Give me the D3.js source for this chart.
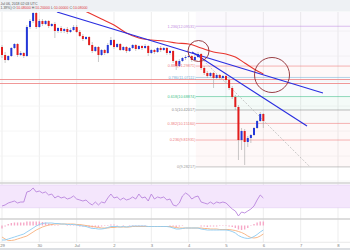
<!DOCTYPE html>
<html>
<head>
<meta charset="utf-8">
<script src="https://cdn.jsdelivr.net/npm/d3@7"></script>
<style>
html, body { margin: 0; padding: 0; background: #fff; overflow: hidden; }
svg { display: block; font-family: "Liberation Sans", Arial, sans-serif; }
</style>
</head>
<body>
<div id="chart"></div>
<script>
const W = 350, H = 250;

// 2h candles starting Jun 29 00:00 UTC
const candleStart = Date.UTC(2018, 5, 29);
const candleStepMs = 2 * 3600 * 1000;

const opens = [11.68,11.52,11.42,11.50,11.66,11.74,11.52,11.56,11.50,12.08,
    12.20,12.36,12.08,12.20,12.14,12.20,12.10,12.14,12.00,12.06,
    12.00,12.04,11.98,12.02,12.08,11.98,11.90,11.84,11.88,11.72,
    11.60,11.68,11.52,11.62,11.56,11.72,11.82,11.68,11.74,11.62,
    11.68,11.60,11.66,11.72,11.64,11.70,11.66,11.70,11.56,11.62,
    11.58,11.66,11.62,11.66,11.56,11.60,11.40,11.30,11.40,11.46,
    11.48,11.50,11.42,11.48,11.54,11.26,11.16,11.10,11.16,11.06,
    11.12,11.06,11.10,11.02,10.86,10.68,10.48,9.82,10.00,9.78,
    9.86,9.92,10.06,10.20,10.34];
const highs = [11.72,11.58,11.52,11.68,11.76,11.76,11.60,11.58,12.12,12.24,
    12.40,12.38,12.24,12.24,12.22,12.22,12.16,12.18,12.08,12.10,
    12.06,12.08,12.06,12.12,12.12,12.02,11.94,11.90,11.90,11.78,
    11.70,11.70,11.64,11.64,11.76,11.88,11.84,11.76,11.76,11.70,
    11.70,11.68,11.74,11.74,11.72,11.72,11.74,11.72,11.64,11.64,
    11.68,11.70,11.68,11.68,11.62,11.62,11.42,11.44,11.48,11.52,
    11.54,11.52,11.52,11.58,11.56,11.30,11.20,11.18,11.18,11.14,
    11.14,11.12,11.12,11.06,10.90,10.72,10.52,10.06,10.04,9.90,
    9.94,10.08,10.22,10.38,10.36];
const lows = [11.46,11.36,11.40,11.48,11.64,11.48,11.50,11.46,11.48,12.04,
    12.16,12.04,12.06,12.10,12.12,12.06,12.08,11.86,11.96,11.96,
    11.96,11.94,11.96,12.00,11.96,11.88,11.80,11.82,11.70,11.56,
    11.58,11.38,11.50,11.52,11.54,11.70,11.64,11.66,11.60,11.60,
    11.56,11.58,11.64,11.60,11.62,11.62,11.64,11.50,11.54,11.54,
    11.56,11.58,11.60,11.52,11.52,11.36,11.22,11.28,11.38,11.42,
    11.46,11.38,11.40,11.46,11.22,11.12,11.06,11.08,10.86,11.04,
    11.02,11.04,10.96,10.82,10.64,10.42,9.42,9.62,9.32,9.68,
    9.76,9.90,10.04,10.18,10.06];
const closes = [11.52,11.42,11.50,11.66,11.74,11.52,11.56,11.50,12.08,12.20,
    12.36,12.08,12.20,12.14,12.20,12.10,12.14,12.00,12.06,12.00,
    12.04,11.98,12.02,12.08,11.98,11.90,11.84,11.88,11.72,11.60,
    11.68,11.52,11.62,11.56,11.72,11.82,11.68,11.74,11.62,11.68,
    11.60,11.66,11.72,11.64,11.70,11.66,11.70,11.56,11.62,11.58,
    11.66,11.62,11.66,11.56,11.60,11.40,11.30,11.40,11.46,11.48,
    11.50,11.42,11.48,11.54,11.26,11.16,11.10,11.16,11.06,11.12,
    11.06,11.10,11.02,10.86,10.68,10.48,9.82,10.00,9.78,9.86,
    9.92,10.06,10.20,10.34,10.20];

// red moving average, sampled at candle indexes
const maIndex = [26,28,32,36,40,44,48,52,56,60,64,68,72,75,78,81,84];
const maValues = [12.42,12.36,12.24,12.12,11.96,11.86,11.82,11.80,11.76,11.74,11.66,11.58,11.54,11.48,11.36,11.24,11.14];

const rsiValues = [33.0,34.8,38.3,40.0,41.8,38.3,40.0,40.0,57.7,59.4,
    64.7,57.7,59.4,55.9,57.7,52.4,54.1,47.1,50.6,47.1,
    48.9,45.3,47.1,50.6,45.3,43.6,41.8,43.6,38.3,34.8,
    40.0,34.8,40.0,38.3,47.1,54.1,47.1,48.9,43.6,47.1,
    43.6,45.3,48.9,45.3,54.1,47.1,48.9,41.8,54.1,45.3,
    48.9,47.1,48.9,43.6,45.3,34.8,33.0,38.3,50.6,55.9,
    52.4,45.3,48.9,50.6,40.0,38.3,36.5,40.0,36.5,40.0,
    38.3,40.0,38.3,33.0,27.7,24.2,15.4,22.4,20.7,24.2,
    27.7,33.0,43.6,52.4,47.1];

const macdValues = [-0.145,-0.145,-0.135,-0.125,-0.115,-0.105,-0.095,-0.085,-0.065,-0.045,
    -0.025,-0.005,0.010,0.020,0.025,0.025,0.025,0.020,0.020,0.015,
    0.015,0.010,0.010,0.010,0.005,0.000,-0.005,-0.010,-0.020,-0.030,
    -0.030,-0.035,-0.035,-0.030,-0.020,-0.010,-0.010,-0.010,-0.015,-0.010,
    -0.015,-0.010,-0.005,-0.005,-0.005,-0.005,-0.005,-0.010,-0.010,-0.010,
    -0.010,-0.010,-0.010,-0.010,-0.015,-0.025,-0.035,-0.035,-0.030,-0.025,
    -0.025,-0.025,-0.025,-0.025,-0.035,-0.040,-0.045,-0.045,-0.045,-0.045,
    -0.045,-0.045,-0.045,-0.050,-0.060,-0.075,-0.100,-0.115,-0.125,-0.130,
    -0.125,-0.110,-0.090,-0.065,-0.045];
const signalValues = [-0.115,-0.135,-0.150,-0.150,-0.145,-0.135,-0.125,-0.115,-0.105,-0.085,
    -0.065,-0.045,-0.030,-0.015,-0.005,0.005,0.010,0.015,0.015,0.015,
    0.015,0.015,0.015,0.015,0.010,0.010,0.005,0.000,-0.005,-0.010,
    -0.015,-0.020,-0.025,-0.025,-0.025,-0.020,-0.020,-0.015,-0.015,-0.015,
    -0.015,-0.015,-0.010,-0.010,-0.010,-0.010,-0.010,-0.010,-0.010,-0.010,
    -0.010,-0.010,-0.010,-0.010,-0.010,-0.015,-0.020,-0.025,-0.025,-0.025,
    -0.025,-0.025,-0.025,-0.025,-0.025,-0.030,-0.030,-0.035,-0.035,-0.035,
    -0.040,-0.040,-0.040,-0.040,-0.045,-0.050,-0.060,-0.070,-0.085,-0.105,
    -0.120,-0.125,-0.120,-0.105,-0.085];
const histValues = [-0.030,-0.010,0.015,0.025,0.030,0.030,0.030,0.030,0.040,0.040,
    0.040,0.040,0.040,0.035,0.030,0.020,0.015,0.005,0.005,0.000,
    0.000,-0.005,-0.005,-0.005,-0.005,-0.010,-0.010,-0.010,-0.015,-0.020,
    -0.015,-0.015,-0.010,-0.005,0.005,0.010,0.010,0.005,0.000,0.005,
    0.000,0.005,0.005,0.005,0.005,0.005,0.005,0.000,0.000,0.000,
    0.000,0.000,0.000,0.000,-0.005,-0.010,-0.015,-0.010,-0.005,0.000,
    0.000,0.000,0.000,0.000,-0.010,-0.010,-0.015,-0.010,-0.010,-0.010,
    -0.005,-0.005,-0.005,-0.010,-0.015,-0.025,-0.040,-0.045,-0.040,-0.025,
    -0.005,0.015,0.030,0.040,0.040];

const dayTicks = ["2018-06-29","2018-06-30","2018-07-01","2018-07-02","2018-07-03",
    "2018-07-04","2018-07-05","2018-07-06","2018-07-07","2018-07-08"];
const dayLabels = ["29","30","Jul","2","3","4","5","6","7","8"];

// drawings
const trendUpper = [["2018-06-30T11:20:00Z", 12.38], ["2018-07-07T14:20:00Z", 10.76]];
const trendLower = [["2018-07-04T02:10:00Z", 11.58], ["2018-07-07T04:05:00Z", 10.10]];
const circleCenters = [["2018-07-04T06:20:00Z", 11.60], ["2018-07-06T05:35:00Z", 11.12]];
const circleRadii = [10.5, 17.5];
const hLevels = [11.03, 10.95];

const fibStart = "2018-07-04T04:40:00Z", fibEnd = "2018-07-07T06:00:00Z";
const fibHigh = 11.55817, fibLow = 9.28217;
const fibRatios = [0, 0.236, 0.382, 0.5, 0.618, 0.786, 0.886, 1.236, 1.618];
const fibColors = ["#9a9a9a", "#ee7b7b", "#ee7b7b", "#8a8a8a", "#3fbf88", "#78b2d8", "#ee7b7b", "#bf8ce0", "#bf8ce0"];
const fibLabelled = [0, 0.236, 0.382, 0.5, 0.618, 0.786, 0.886, 1.236];

const svg = d3.select("#chart").append("svg")
    .attr("width", W)
    .attr("height", H);

const x = d3.scaleUtc()
    .domain([new Date(Date.UTC(2018, 5, 29)), new Date(Date.UTC(2018, 6, 8))])
    .range([2, 338]);
const y = d3.scaleLinear().domain([8.96, 12.38]).range([183, 12]);
const yRsi = d3.scaleLinear().domain([30, 70]).range([207.7, 185]);
const yMacd = d3.scaleLinear().domain([0, 0.1]).range([225.5, 215.5]);

const tAt = (i) => new Date(candleStart + i * candleStepMs);

const defs = svg.append("defs");
defs.append("clipPath").attr("id", "clipMain").append("rect")
    .attr("x", 0).attr("y", 12).attr("width", W).attr("height", 171);
defs.append("clipPath").attr("id", "clipRsi").append("rect")
    .attr("x", 0).attr("y", 184).attr("width", W).attr("height", 34);
defs.append("clipPath").attr("id", "clipMacd").append("rect")
    .attr("x", 0).attr("y", 220).attr("width", W).attr("height", 22);

svg.append("rect").attr("width", W).attr("height", H).attr("fill", "#fff");

// vertical day grid through all panels
svg.append("g").selectAll("line")
    .data(dayTicks)
    .join("line")
    .attr("x1", (d) => x(new Date(d)))
    .attr("x2", (d) => x(new Date(d)))
    .attr("y1", 12)
    .attr("y2", 242)
    .attr("stroke", "#e9e9e9")
    .attr("stroke-width", 0.8);

const gMain = svg.append("g").attr("clip-path", "url(#clipMain)");

gMain.selectAll("line.hgrid")
    .data(y.ticks(8))
    .join("line")
    .attr("class", "hgrid")
    .attr("x1", 0).attr("x2", W)
    .attr("y1", (d) => y(d)).attr("y2", (d) => y(d))
    .attr("stroke", "#f4f4f4")
    .attr("stroke-width", 0.8);

// fibonacci retracement
const fibPrice = (r) => fibLow + r * (fibHigh - fibLow);
const fx0 = x(new Date(fibStart));
const fibBands = fibRatios.slice(1).map((r, k) => ({ lo: fibRatios[k], hi: r, color: fibColors[k + 1] }));
gMain.selectAll("rect.fibband")
    .data(fibBands)
    .join("rect")
    .attr("class", "fibband")
    .attr("x", fx0)
    .attr("width", W - fx0)
    .attr("y", (d) => y(fibPrice(d.hi)))
    .attr("height", (d) => y(fibPrice(d.lo)) - y(fibPrice(d.hi)))
    .attr("fill", (d) => d.color)
    .attr("fill-opacity", 0.055);

gMain.selectAll("line.fib")
    .data(fibRatios)
    .join("line")
    .attr("class", "fib")
    .attr("x1", fx0).attr("x2", W)
    .attr("y1", (d) => y(fibPrice(d))).attr("y2", (d) => y(fibPrice(d)))
    .attr("stroke", (d, i) => fibColors[i])
    .attr("stroke-opacity", 0.7)
    .attr("stroke-width", 0.8);

gMain.selectAll("line.hlevel")
    .data(hLevels)
    .join("line")
    .attr("class", "hlevel")
    .attr("x1", 0).attr("x2", W)
    .attr("y1", (d) => y(d)).attr("y2", (d) => y(d))
    .attr("stroke", "#ee8c8c")
    .attr("stroke-width", 0.9);

gMain.append("line")
    .attr("x1", fx0).attr("y1", y(fibHigh))
    .attr("x2", x(new Date(fibEnd))).attr("y2", y(fibLow))
    .attr("stroke", "#b4b4b4")
    .attr("stroke-width", 0.7)
    .attr("stroke-dasharray", "2,1.5");

// moving average
gMain.append("path")
    .datum(maIndex.map((idx, k) => [idx, maValues[k]]))
    .attr("fill", "none")
    .attr("stroke", "#e8352e")
    .attr("stroke-width", 1.1)
    .attr("d", d3.line().curve(d3.curveMonotoneX)
        .x((d) => x(tAt(d[0])))
        .y((d) => y(d[1])));

// trend lines
gMain.selectAll("line.trend")
    .data([trendUpper, trendLower])
    .join("line")
    .attr("class", "trend")
    .attr("x1", (d) => x(new Date(d[0][0]))).attr("y1", (d) => y(d[0][1]))
    .attr("x2", (d) => x(new Date(d[1][0]))).attr("y2", (d) => y(d[1][1]))
    .attr("stroke", "#2a2ee0")
    .attr("stroke-width", 1.1);

// candles
const candles = closes.map((c, i) => ({ t: tAt(i), o: opens[i], h: highs[i], l: lows[i], c: c }));
gMain.selectAll("line.wick")
    .data(candles)
    .join("line")
    .attr("class", "wick")
    .attr("x1", (d) => x(d.t)).attr("x2", (d) => x(d.t))
    .attr("y1", (d) => y(d.h)).attr("y2", (d) => y(d.l))
    .attr("stroke", "#a4a4a4")
    .attr("stroke-width", 0.6);
gMain.selectAll("rect.body")
    .data(candles)
    .join("rect")
    .attr("class", "body")
    .attr("x", (d) => x(d.t) - 1)
    .attr("width", 2)
    .attr("y", (d) => y(Math.max(d.o, d.c)))
    .attr("height", (d) => Math.max(0.8, Math.abs(y(d.o) - y(d.c))))
    .attr("fill", (d) => (d.c >= d.o ? "#2337d8" : "#e21c1c"));

// circles
gMain.selectAll("circle")
    .data(circleCenters)
    .join("circle")
    .attr("cx", (d) => x(new Date(d[0])))
    .attr("cy", (d) => y(d[1]))
    .attr("r", (d, i) => circleRadii[i])
    .attr("fill", "none")
    .attr("stroke", "#8e2a30")
    .attr("stroke-width", 0.9);

// fib labels
const fmt5 = d3.format(".5f");
gMain.selectAll("text.fiblabel")
    .data(fibLabelled)
    .join("text")
    .attr("class", "fiblabel")
    .attr("x", fx0 - 0.5)
    .attr("y", (d) => y(fibPrice(d)) + 1.3)
    .attr("text-anchor", "end")
    .attr("font-size", 3.8)
    .attr("fill", (d) => fibColors[fibRatios.indexOf(d)])
    .text((d) => `${d}(${fmt5(fibPrice(d))})`);

// RSI panel
const gRsi = svg.append("g").attr("clip-path", "url(#clipRsi)");
gRsi.append("rect")
    .attr("x", 0).attr("width", W)
    .attr("y", yRsi(70)).attr("height", yRsi(30) - yRsi(70))
    .attr("fill", "#f4e6fc");
gRsi.selectAll("line.band")
    .data([70, 30])
    .join("line")
    .attr("class", "band")
    .attr("x1", 0).attr("x2", W)
    .attr("y1", (d) => yRsi(d)).attr("y2", (d) => yRsi(d))
    .attr("stroke", "#e2cdf3")
    .attr("stroke-width", 0.6);
gRsi.append("path")
    .datum(rsiValues)
    .attr("fill", "none")
    .attr("stroke", "#b985dc")
    .attr("stroke-width", 0.9)
    .attr("d", d3.line().x((d, i) => x(tAt(i))).y((d) => yRsi(d)));

// MACD panel
const gMacd = svg.append("g").attr("clip-path", "url(#clipMacd)");
gMacd.selectAll("rect")
    .data(histValues)
    .join("rect")
    .attr("x", (d, i) => x(tAt(i)) - 0.7)
    .attr("width", 1.4)
    .attr("y", (d) => Math.min(yMacd(d), yMacd(0)))
    .attr("height", (d) => Math.abs(yMacd(d) - yMacd(0)))
    .attr("fill", "#f6a8c7");
gMacd.append("path")
    .datum(signalValues)
    .attr("fill", "none")
    .attr("stroke", "#f7b07c")
    .attr("stroke-width", 0.9)
    .attr("d", d3.line().x((d, i) => x(tAt(i))).y((d) => yMacd(d)));
gMacd.append("path")
    .datum(macdValues)
    .attr("fill", "none")
    .attr("stroke", "#8ccbf2")
    .attr("stroke-width", 0.9)
    .attr("d", d3.line().x((d, i) => x(tAt(i))).y((d) => yMacd(d)));

// panel separators
svg.selectAll("line.sep")
    .data([183, 219])
    .join("line")
    .attr("class", "sep")
    .attr("x1", 0).attr("x2", W)
    .attr("y1", (d) => d).attr("y2", (d) => d)
    .attr("stroke", "#d2d2d2")
    .attr("stroke-width", 1.6);
svg.append("line")
    .attr("x1", 0).attr("x2", W).attr("y1", 242.3).attr("y2", 242.3)
    .attr("stroke", "#e4e4e4").attr("stroke-width", 0.8);
svg.append("rect")
    .attr("x", 0).attr("y", 248).attr("width", W).attr("height", 2)
    .attr("fill", "#dcdfe3");

// time axis
const xAxis = d3.axisBottom(x)
    .tickValues(dayTicks.map((d) => new Date(d)))
    .tickFormat((d, i) => dayLabels[i])
    .tickSize(0)
    .tickPadding(1.2);
svg.append("g")
    .attr("transform", "translate(0,243)")
    .call(xAxis)
    .call((g) => g.select(".domain").remove())
    .selectAll("text")
    .attr("font-family", "Liberation Sans, Arial, sans-serif")
    .attr("font-size", 4.2)
    .attr("fill", "#7a7a7a");

// header
svg.append("rect").attr("width", W).attr("height", 11.5).attr("fill", "#eef1f4");
svg.append("text")
    .attr("x", 0.5).attr("y", 4.9)
    .attr("font-size", 3.5)
    .attr("fill", "#555")
    .text("Jul 06, 2018 02:03 UTC");
const ohlcText = svg.append("text")
    .attr("x", 0.5).attr("y", 9.4)
    .attr("font-size", 3.5)
    .attr("fill", "#555");
const headerParts = [["1.39%) O:", "10.08000"], [" H:", "10.20000"], [" L:", "10.00000"], [" C:", "10.08000"]];
headerParts.forEach(([k, v]) => {
    ohlcText.append("tspan").attr("fill", "#555").text(k);
    ohlcText.append("tspan").attr("fill", "#e03c3c").text(v);
});
</script>
</body>
</html>
